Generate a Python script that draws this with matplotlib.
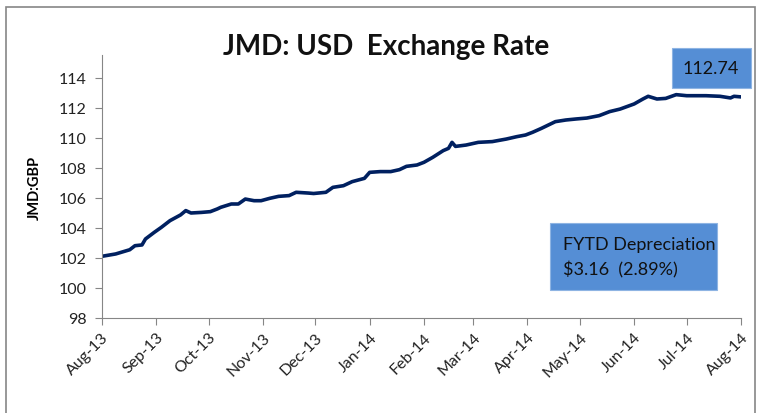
import matplotlib
matplotlib.use("Agg")
import matplotlib.pyplot as plt
import matplotlib.dates as mdates
from matplotlib.patches import Rectangle
import pandas as pd

# JMD per USD
dates = ["2013-08-01", "2013-08-09", "2013-08-17", "2013-08-20", "2013-08-24",
         "2013-08-26", "2013-08-31", "2013-09-04", "2013-09-09", "2013-09-15",
         "2013-09-18", "2013-09-21", "2013-09-27", "2013-10-02", "2013-10-06",
         "2013-10-08", "2013-10-14", "2013-10-18", "2013-10-22", "2013-10-27",
         "2013-10-31", "2013-11-05", "2013-11-10", "2013-11-16", "2013-11-20",
         "2013-11-27", "2013-11-30", "2013-12-07", "2013-12-11", "2013-12-17",
         "2013-12-22", "2013-12-29", "2014-01-01", "2014-01-07", "2014-01-13",
         "2014-01-18", "2014-01-22", "2014-01-28", "2014-02-01", "2014-02-06",
         "2014-02-12", "2014-02-15", "2014-02-17", "2014-02-19", "2014-02-25",
         "2014-03-04", "2014-03-12", "2014-03-20", "2014-03-26", "2014-03-31",
         "2014-04-04", "2014-04-09", "2014-04-17", "2014-04-23", "2014-04-29",
         "2014-05-05", "2014-05-12", "2014-05-18", "2014-05-24", "2014-06-01",
         "2014-06-06", "2014-06-09", "2014-06-14", "2014-06-19", "2014-06-25",
         "2014-07-01", "2014-07-12", "2014-07-20", "2014-07-26", "2014-07-28",
         "2014-08-01"]
rates = [102.11, 102.27, 102.55, 102.82, 102.87,
         103.27, 103.71, 104.04, 104.49, 104.87,
         105.16, 105.00, 105.04, 105.09, 105.27,
         105.38, 105.60, 105.60, 105.93, 105.82,
         105.82, 105.98, 106.11, 106.16, 106.38,
         106.33, 106.30, 106.38, 106.71, 106.82,
         107.09, 107.31, 107.71, 107.76, 107.76,
         107.89, 108.11, 108.20, 108.38, 108.71,
         109.16, 109.31, 109.71, 109.44, 109.53,
         109.71, 109.76, 109.93, 110.09, 110.20,
         110.38, 110.64, 111.09, 111.20, 111.27,
         111.33, 111.49, 111.76, 111.93, 112.27,
         112.60, 112.78, 112.60, 112.64, 112.89,
         112.82, 112.82, 112.78, 112.67, 112.78,
         112.74]
month_ticks = pd.date_range("2013-08-01", "2014-08-01", freq="MS")

x = pd.to_datetime(dates)
box_blue = "#558ed5"
axis_grey = "#868686"

plt.rcParams["font.family"] = ["Lato", "DejaVu Sans"]
fig = plt.figure(figsize=(7.6, 4.14), dpi=100)

# outer chart border
fig.patches.append(Rectangle((6 / 760, -0.05), 749 / 760, 1.05 - 8 / 414,
                             transform=fig.transFigure, fill=False,
                             edgecolor=axis_grey, linewidth=1.2))

ax = fig.add_axes([101.7 / 760, 1 - 319 / 414, (741 - 101.7) / 760, (319 - 56) / 414])
ax.plot(x, rates, color="#002060", linewidth=2.6, solid_joinstyle="round")

ax.set_xlim(month_ticks[0], month_ticks[-1])
ax.set_ylim(98, 98 + (319 - 56) / 15)
ax.set_yticks(range(98, 115, 2))
ax.set_xticks(month_ticks)
ax.xaxis.set_major_formatter(mdates.DateFormatter("%b-%y"))
ax.tick_params(axis="both", colors=axis_grey, labelcolor="#222222", labelsize=11.5, length=5)
ax.tick_params(axis="y", pad=6)
plt.setp(ax.get_xticklabels(), rotation=45, ha="right", rotation_mode="anchor")

for side in ["top", "right"]:
    ax.spines[side].set_visible(False)
for side in ["left", "bottom"]:
    ax.spines[side].set_color(axis_grey)

ax.set_ylabel("JMD:GBP", fontsize=10.5, fontweight="bold", labelpad=12)

fig.text(386 / 760, 1 - 47 / 414, "JMD: USD  Exchange Rate", ha="center", va="center",
         fontsize=20, fontweight="bold", color="#111111")

# value box
fig.patches.append(Rectangle((672 / 760, 1 - 89 / 414), 79 / 760, 40 / 414,
                             transform=fig.transFigure, facecolor=box_blue,
                             edgecolor="#8eb4e3", linewidth=0.8))
fig.text(711 / 760, 1 - 69 / 414, "112.74", ha="center", va="center", fontsize=13, color="#111111")

# depreciation box
fig.patches.append(Rectangle((550 / 760, 1 - 291 / 414), 167 / 760, 67 / 414,
                             transform=fig.transFigure, facecolor=box_blue,
                             edgecolor="#8eb4e3", linewidth=0.8))
fig.text(563 / 760, 1 - 245 / 414, "FYTD Depreciation", ha="left", va="center",
         fontsize=13, color="#111111")
fig.text(563 / 760, 1 - 270 / 414, "$3.16  (2.89%)", ha="left", va="center",
         fontsize=13, color="#111111")

fig.savefig("out.png", dpi=100)
